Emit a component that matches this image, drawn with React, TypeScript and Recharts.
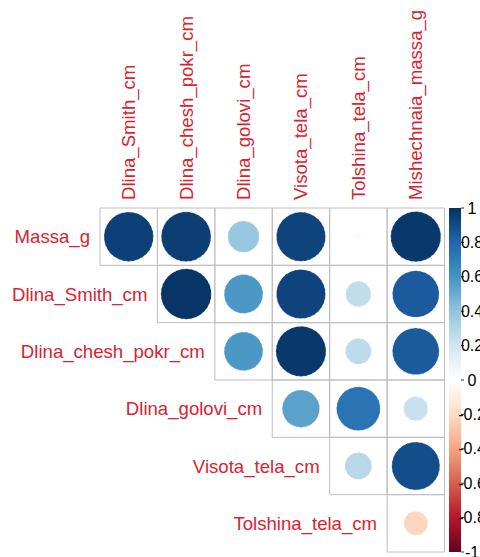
import React from 'react';
import { ScatterChart, Scatter, XAxis, YAxis, ReferenceArea, BarChart, Bar } from 'recharts';

// row / column variables of the correlation matrix (upper triangle)
const rowNames = ['Massa_g', 'Dlina_Smith_cm', 'Dlina_chesh_pokr_cm', 'Dlina_golovi_cm', 'Visota_tela_cm', 'Tolshina_tela_cm'];
const colNames = ['Dlina_Smith_cm', 'Dlina_chesh_pokr_cm', 'Dlina_golovi_cm', 'Visota_tela_cm', 'Tolshina_tela_cm', 'Mishechnaia_massa_g'];

// correlations per row, starting at the row's own diagonal column
const massaG = [0.94, 0.95, 0.38, 0.93, 0.02, 0.97];
const dlinaSmith = [0.98, 0.58, 0.93, 0.25, 0.84];
const dlinaChesh = [0.58, 0.97, 0.26, 0.84];
const dlinaGolovi = [0.54, 0.74, 0.23];
const visotaTela = [0.28, 0.89];
const tolshinaTela = [-0.22];

const rowValues = [massaG, dlinaSmith, dlinaChesh, dlinaGolovi, visotaTela, tolshinaTela];

const colorbarTicks = [-1, -0.8, -0.6, -0.4, -0.2, 0, 0.2, 0.4, 0.6, 0.8, 1];
const colorbarRange = [{ name: 'cor', range: [-1, 1] }];

// RdBu palette used by corrplot, from -1 to 1
const RDBU = ['#67001F', '#B2182B', '#D6604D', '#F4A582', '#FDDBC7', '#FFFFFF', '#D1E5F0', '#92C5DE', '#4393C3', '#2166AC', '#053061'];

const W = 480;
const H = 557;
const MAX_R = 25.5;
const LABEL_COL = '#d9232e';
const LABEL_SIZE = 18.6;
const FONT = 'Arial, "Liberation Sans", sans-serif';

const hex = (c: string) => [1, 3, 5].map(i => parseInt(c.slice(i, i + 2), 16));

const corColor = (v: number) => {
  const t = ((v + 1) / 2) * (RDBU.length - 1);
  const i = Math.min(Math.floor(t), RDBU.length - 2);
  const f = t - i;
  const a = hex(RDBU[i]);
  const b = hex(RDBU[i + 1]);
  const c = a.map((x, k) => Math.round(x + (b[k] - x) * f));
  return `rgb(${c[0]},${c[1]},${c[2]})`;
};

const cells = rowValues.flatMap((vals, i) =>
  vals.map((v, k) => ({ x: i + k + 0.5, y: i + 0.5, value: v, row: i, col: i + k }))
);

const rowLabels = rowNames.map((name, i) => ({ x: i, y: i + 0.5, name }));
const colLabels = colNames.map((name, j) => ({ x: j + 0.5, y: 0, name }));

const CircleShape = (props: any) => {
  const { cx, cy, payload } = props;
  const r = Math.sqrt(Math.abs(payload.value)) * MAX_R;
  const fill = corColor(payload.value);
  return (
    <circle cx={cx} cy={cy} r={r} fill={fill} stroke="#ffffff" strokeOpacity={0.55}
      strokeWidth={0.8} strokeDasharray="3 2" />
  );
};

const RowLabel = (props: any) => (
  <text x={props.cx - 10} y={props.cy} textAnchor="end" dominantBaseline="central"
    fill={LABEL_COL} fontSize={LABEL_SIZE} fontFamily={FONT}>
    {props.payload.name}
  </text>
);

const ColLabel = (props: any) => (
  <text x={props.cx} y={props.cy - 8} transform={`rotate(-90 ${props.cx} ${props.cy - 8})`}
    textAnchor="start" dominantBaseline="central" fill={LABEL_COL} fontSize={LABEL_SIZE} fontFamily={FONT}>
    {props.payload.name}
  </text>
);

const BarTick = (props: any) => (
  <text x={props.x + 8} y={props.y} textAnchor="middle" dominantBaseline="central"
    fill="#000" fontSize={16} fontFamily={FONT}>
    {props.payload.value}
  </text>
);

export default function App() {
  return (
    <div style={{ position: 'absolute', left: 0, top: 0, width: W, height: H, background: '#fff' }}>
      <div style={{ position: 'absolute', left: 0, top: 0 }}>
        <ScatterChart width={W} height={H} margin={{ top: 208, right: 35.5, bottom: 5, left: 100 }}>
          <XAxis type="number" dataKey="x" domain={[0, 6]} hide />
          <YAxis type="number" dataKey="y" domain={[0, 6]} reversed hide />
          {cells.map(c => (
            <ReferenceArea key={`${c.row}-${c.col}`} x1={c.col} x2={c.col + 1} y1={c.row} y2={c.row + 1}
              fill="none" stroke="#bebebe" strokeWidth={1} />
          ))}
          <Scatter data={cells} shape={CircleShape} isAnimationActive={false} />
          <Scatter data={rowLabels} shape={RowLabel} isAnimationActive={false} />
          <Scatter data={colLabels} shape={ColLabel} isAnimationActive={false} />
        </ScatterChart>
      </div>
      <div style={{ position: 'absolute', left: 0, top: 0 }}>
        <BarChart width={W} height={H} data={colorbarRange} barCategoryGap={0}
          margin={{ top: 208, right: 0, bottom: 5, left: 449 }}>
          <defs>
            <linearGradient id="rdbu" x1="0" y1="1" x2="0" y2="0">
              {RDBU.map((c, i) => (
                <stop key={c} offset={`${(i / (RDBU.length - 1)) * 100}%`} stopColor={c} />
              ))}
            </linearGradient>
          </defs>
          <XAxis dataKey="name" hide />
          <YAxis orientation="right" type="number" domain={[-1, 1]} ticks={colorbarTicks}
            width={19} axisLine={false} tickSize={3} tickMargin={0} tickLine={{ stroke: '#333' }}
            tick={BarTick} interval={0} />
          <Bar dataKey="range" fill="url(#rdbu)" isAnimationActive={false} />
        </BarChart>
      </div>
    </div>
  );
}
